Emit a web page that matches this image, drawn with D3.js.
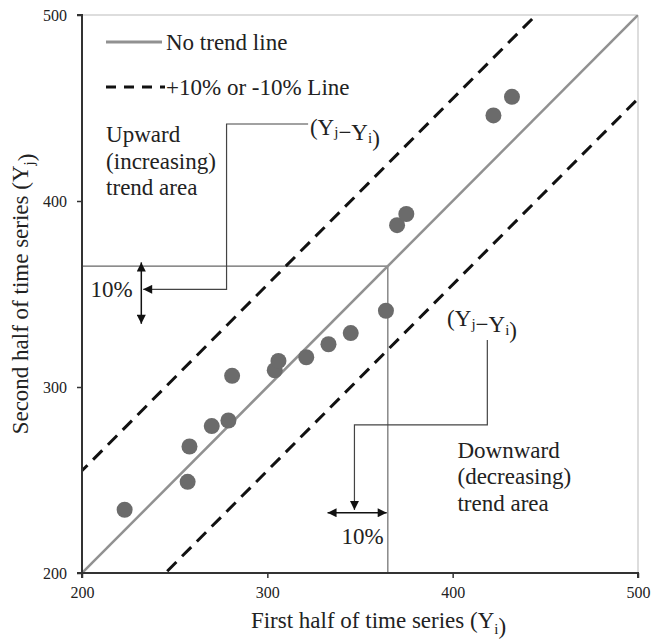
<!DOCTYPE html>
<html>
<head>
<meta charset="utf-8">
<script src="https://cdn.jsdelivr.net/npm/d3@7"></script>
<style>
  body { margin: 0; background: #fff; }
  text { font-family: "Liberation Serif", "Times New Roman", serif; fill: #222; }
</style>
</head>
<body>
<div id="app"></div>
<script>
// first half (Yi) vs second half (Yj) of each time series
const firstHalf  = [223, 257, 258, 270, 279, 281, 304, 306, 321, 333, 345, 364, 370, 375, 422, 432]
const secondHalf = [234, 249, 268, 279, 282, 306, 309, 314, 316, 323, 329, 341, 387, 393, 446, 456]
const ticks = [200, 300, 400, 500]
const bandOffsets = [55, -45]   // +10% / -10% lines (y = x + offset)
const refValue = 365            // point on the no-trend line used for the 10% guides

const W = 652, H = 639
const margin = {left: 82, top: 15, right: 14, bottom: 66}
const w = W - margin.left - margin.right
const h = H - margin.top - margin.bottom

const svg = d3.select('#app').append('svg').attr('width', W).attr('height', H)
const g = svg.append('g').attr('transform', `translate(${margin.left},${margin.top})`)

const x = d3.scaleLinear().domain([200, 500]).range([0, w])
const y = d3.scaleLinear().domain([200, 500]).range([h, 0])

// arrowheads
const defs = svg.append('defs')
defs.append('marker').attr('id', 'arr')
  .attr('viewBox', '0 0 10 10').attr('refX', 10).attr('refY', 5)
  .attr('markerWidth', 10).attr('markerHeight', 9).attr('markerUnits', 'userSpaceOnUse')
  .attr('orient', 'auto-start-reverse')
  .append('path').attr('d', 'M0,0L10,5L0,10Z').attr('fill', '#111')

// frame (top / right)
g.append('line').attr('x1', 0).attr('x2', w).attr('y1', 0).attr('y2', 0).attr('stroke', '#bbb')
g.append('line').attr('x1', w).attr('x2', w).attr('y1', 0).attr('y2', h).attr('stroke', '#bbb')

// guide lines from the reference point
g.append('line').attr('x1', x(200)).attr('x2', x(refValue)).attr('y1', y(refValue)).attr('y2', y(refValue))
  .attr('stroke', '#666').attr('stroke-width', 1.2)
g.append('line').attr('x1', x(refValue)).attr('x2', x(refValue)).attr('y1', y(refValue)).attr('y2', y(200))
  .attr('stroke', '#888').attr('stroke-width', 1.5)

// clip for trend lines
defs.append('clipPath').attr('id', 'plot').append('rect').attr('width', w).attr('height', h)
const lines = g.append('g').attr('clip-path', 'url(#plot)')

lines.append('line')
  .attr('x1', x(200)).attr('y1', y(200)).attr('x2', x(500)).attr('y2', y(500))
  .attr('stroke', '#919191').attr('stroke-width', 2.5)

lines.selectAll('line.band').data(bandOffsets).enter().append('line')
  .attr('class', 'band')
  .attr('x1', x(150)).attr('y1', d => y(150 + d))
  .attr('x2', x(550)).attr('y2', d => y(550 + d))
  .attr('stroke', '#111').attr('stroke-width', 3).attr('stroke-dasharray', '13,8')

// points
const pts = firstHalf.map((v, i) => ({xi: v, yj: secondHalf[i]}))
g.selectAll('circle.pt').data(pts).enter().append('circle')
  .attr('class', 'pt')
  .attr('cx', d => x(d.xi)).attr('cy', d => y(d.yj)).attr('r', 8)
  .attr('fill', '#6b6b6b')

// axes
const xAxis = g.append('g').attr('transform', `translate(0,${h})`)
  .call(d3.axisBottom(x).tickValues(ticks).tickSize(5).tickPadding(9))
const yAxis = g.append('g')
  .call(d3.axisLeft(y).tickValues(ticks).tickSize(5).tickPadding(10))
;[xAxis, yAxis].forEach(a => {
  a.select('.domain').attr('stroke', '#333').attr('stroke-width', 2)
  a.selectAll('.tick line').attr('stroke', '#333').attr('stroke-width', 1.5)
  a.selectAll('.tick text').style('font-family', '"Liberation Serif", serif').style('font-size', '16px').attr('fill', '#222')
})
yAxis.select('.domain').attr('d', `M-5,${h}H0V0H-5`)
xAxis.select('.domain').attr('d', `M0,5V0H${w}V5`)

// text with subscripts
function subText(sel, parts, size) {
  parts.forEach(p => {
    if (p.sub) {
      sel.append('tspan').attr('dy', size * 0.25).attr('font-size', size * 0.65).text(p.t)
      sel.append('tspan').attr('dy', -size * 0.25).text('')
    } else {
      sel.append('tspan').text(p.t)
    }
  })
  return sel
}

const fs = 23

// axis titles
subText(svg.append('text')
  .attr('x', margin.left + x(360)).attr('y', 628)
  .attr('text-anchor', 'middle').attr('font-size', fs),
  [{t: 'First half of time series (Y'}, {t: 'i', sub: true}, {t: ')'}], fs)

subText(svg.append('text')
  .attr('transform', `translate(28,${margin.top + y(350)}) rotate(-90)`)
  .attr('text-anchor', 'middle').attr('font-size', fs),
  [{t: 'Second half of time series (Y'}, {t: 'j', sub: true}, {t: ')'}], fs)

// legend
const leg = svg.append('g')
leg.append('line').attr('x1', 106).attr('x2', 162).attr('y1', 42).attr('y2', 42)
  .attr('stroke', '#919191').attr('stroke-width', 3)
leg.append('text').attr('x', 166).attr('y', 42).attr('dominant-baseline', 'central')
  .attr('font-size', fs).text('No trend line')
leg.append('line').attr('x1', 106).attr('x2', 165).attr('y1', 87).attr('y2', 87)
  .attr('stroke', '#111').attr('stroke-width', 3).attr('stroke-dasharray', '10,8')
leg.append('text').attr('x', 166).attr('y', 87).attr('dominant-baseline', 'central')
  .attr('font-size', fs).text('+10% or -10% Line')

// upward annotation
const upBracket = [[322, 441.4], [278, 441.4], [278, 352.5], [233, 352.5]]
g.append('path').datum(upBracket)
  .attr('d', d3.line().x(d => x(d[0])).y(d => y(d[1])))
  .attr('fill', 'none').attr('stroke', '#444').attr('stroke-width', 1.2)
  .attr('marker-end', 'url(#arr)')
g.append('line').attr('x1', x(232)).attr('x2', x(232)).attr('y1', y(367)).attr('y2', y(334))
  .attr('stroke', '#111').attr('stroke-width', 1.5)
  .attr('marker-start', 'url(#arr)').attr('marker-end', 'url(#arr)')
g.append('text').attr('x', x(216)).attr('y', y(352.5)).attr('text-anchor', 'middle')
  .attr('dominant-baseline', 'central').attr('font-size', fs).text('10%')
subText(g.append('text').attr('x', x(323)).attr('y', y(440)).attr('dominant-baseline', 'central').attr('font-size', fs),
  [{t: '(Y'}, {t: 'j', sub: true}, {t: '\u2212Y'}, {t: 'i', sub: true}, {t: ')'}], fs)
const upLines = ['Upward', '(increasing)', 'trend area']
const upY = [435.5, 421.3, 407]
g.selectAll('text.up').data(upLines).enter().append('text').attr('class', 'up')
  .attr('x', x(213)).attr('y', (d, i) => y(upY[i])).attr('dominant-baseline', 'central')
  .attr('font-size', fs).text(d => d)

// downward annotation
const downBracket = [[418.7, 325.3], [418.7, 279.6], [347, 279.6], [347, 233.9]]
g.append('path').datum(downBracket)
  .attr('d', d3.line().x(d => x(d[0])).y(d => y(d[1])))
  .attr('fill', 'none').attr('stroke', '#444').attr('stroke-width', 1.2)
  .attr('marker-end', 'url(#arr)')
g.append('line').attr('x1', x(332.5)).attr('x2', x(364.4)).attr('y1', y(232.4)).attr('y2', y(232.4))
  .attr('stroke', '#111').attr('stroke-width', 1.5)
  .attr('marker-start', 'url(#arr)').attr('marker-end', 'url(#arr)')
g.append('text').attr('x', x(351.4)).attr('y', y(219.5)).attr('text-anchor', 'middle')
  .attr('dominant-baseline', 'central').attr('font-size', fs).text('10%')
subText(g.append('text').attr('x', x(397)).attr('y', y(337)).attr('dominant-baseline', 'central').attr('font-size', fs),
  [{t: '(Y'}, {t: 'j', sub: true}, {t: '\u2212Y'}, {t: 'i', sub: true}, {t: ')'}], fs)
const downLines = ['Downward', '(decreasing)', 'trend area']
const downY = [266, 251.8, 237.5]
g.selectAll('text.down').data(downLines).enter().append('text').attr('class', 'down')
  .attr('x', x(402.6)).attr('y', (d, i) => y(downY[i])).attr('dominant-baseline', 'central')
  .attr('font-size', fs).text(d => d)
</script>
</body>
</html>
